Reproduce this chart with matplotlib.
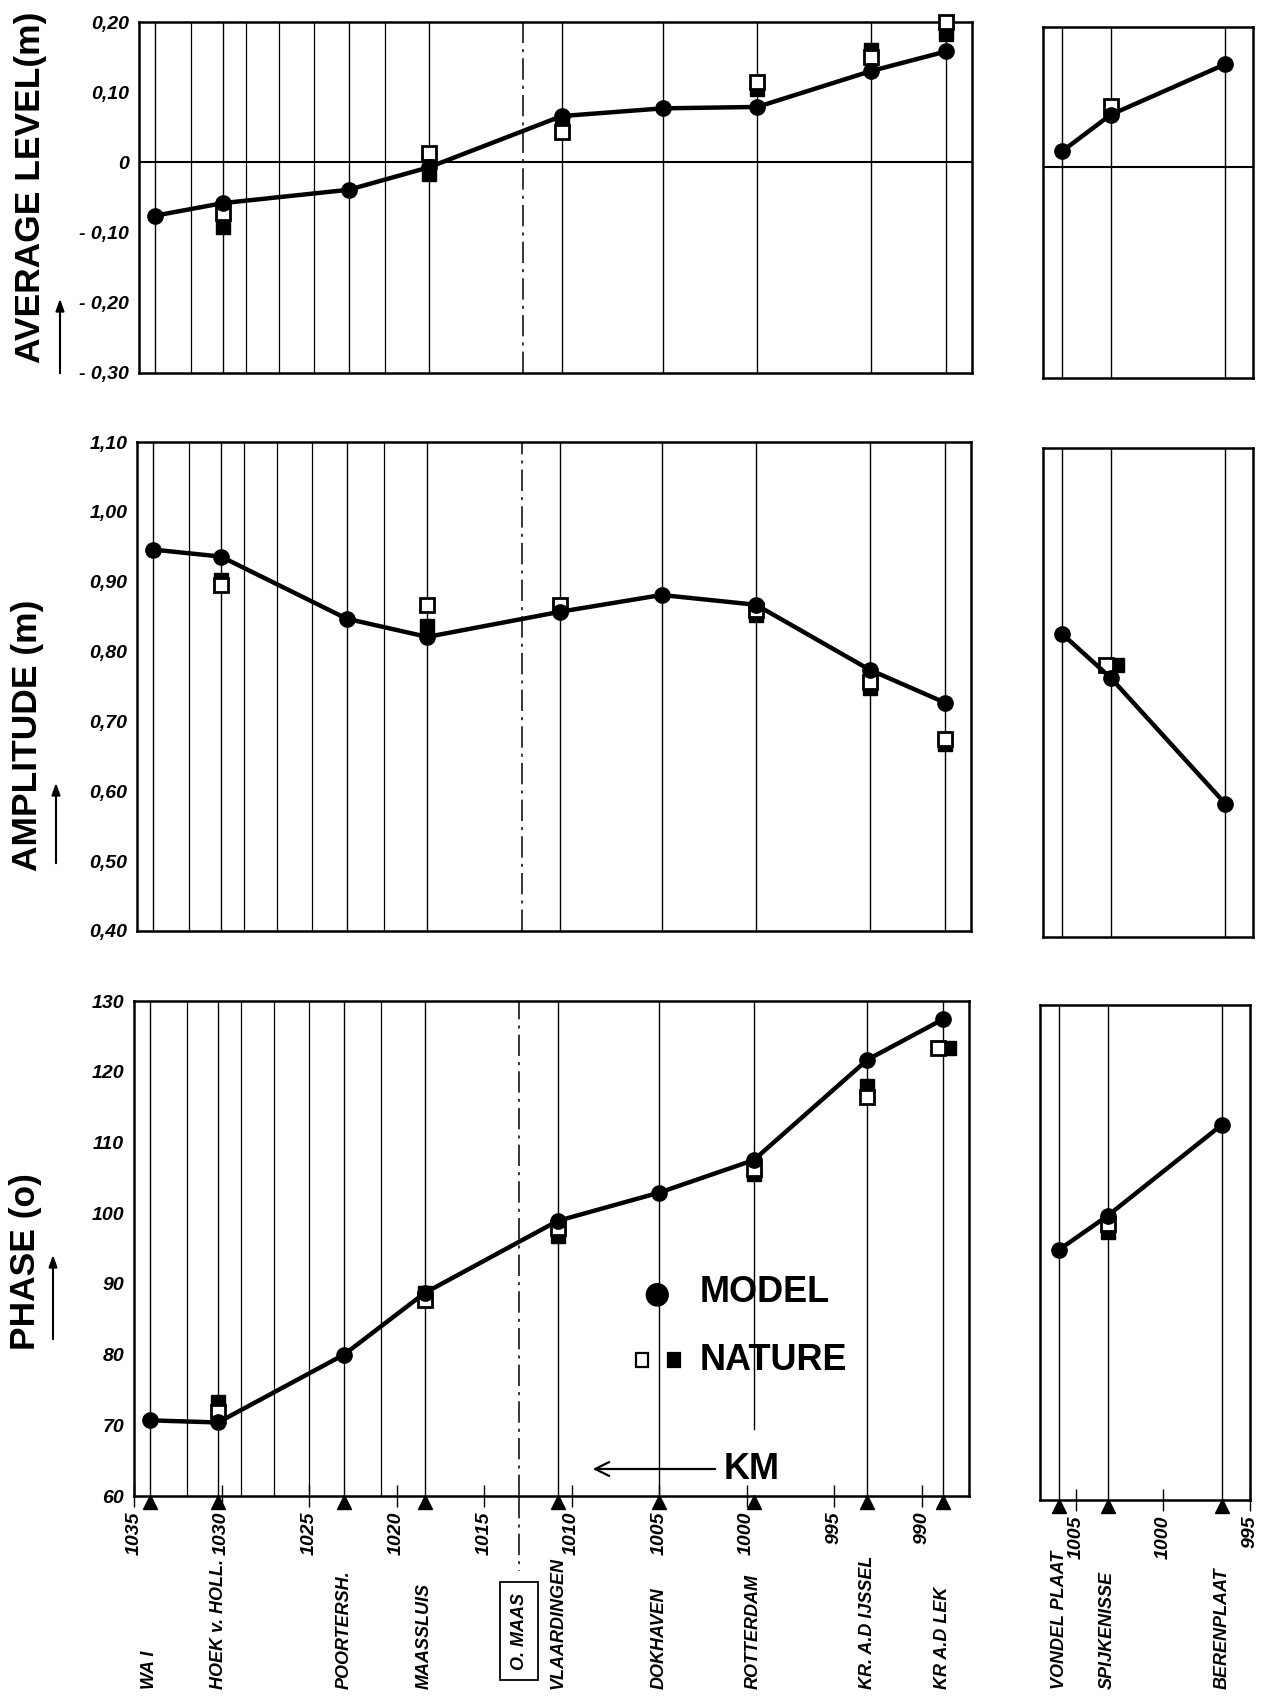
import numpy as np
import matplotlib
matplotlib.use("Agg")
import matplotlib.pyplot as plt
import matplotlib.transforms as mtransforms

plt.rcParams['font.family'] = ['Liberation Sans', 'DejaVu Sans']

nan = np.nan

# stations along the Nieuwe Waterweg / Nieuwe Maas (km)
stations_main = ['WA I', 'HOEK v. HOLL.', 'POORTERSH.', 'MAASSLUIS', 'VLAARDINGEN',
                 'DOKHAVEN', 'ROTTERDAM', 'KR. A.D IJSSEL', 'KR A.D LEK']
km_main = [1034.1, 1030.2, 1023.0, 1018.4, 1010.8, 1005.0, 999.6, 993.1, 988.8]
# stations along the Oude Maas (km)
stations_side = ['VONDEL PLAAT', 'SPIJKENISSE', 'BERENPLAAT']
km_side = [1006.0, 1003.2, 996.6]
omaas_km = 1013.0
grid_km = [1032.0, 1028.9, 1027.0, 1025.0, 1020.9]
xticks_main = [1035, 1030, 1025, 1020, 1015, 1010, 1005, 1000, 995, 990]
xticks_side = [1005, 1000, 995]

# average level (m)
level_model = [-0.076, -0.058, -0.039, -0.007, 0.066, 0.077, 0.079, 0.130, 0.158]
level_open = [nan, -0.072, nan, 0.013, 0.043, nan, 0.115, 0.150, 0.200]
level_filled = [nan, -0.092, nan, -0.017, 0.052, nan, 0.105, 0.160, 0.183]
level_side_model = [0.023, 0.075, 0.147]
level_side_open = [nan, 0.088, nan]
level_side_filled = [nan, 0.080, nan]

# amplitude (m)
amp_model = [0.946, 0.936, 0.847, 0.821, 0.857, 0.881, 0.867, 0.774, 0.727]
amp_open = [nan, 0.896, nan, 0.867, 0.866, nan, 0.860, 0.757, 0.675]
amp_filled = [nan, 0.903, nan, 0.836, 0.862, nan, 0.852, 0.748, 0.668]
amp_side_model = [0.834, 0.771, 0.591]
amp_side_open = [nan, 0.790, nan]
amp_side_filled = [nan, 0.790, nan]

# phase (degrees)
phase_model = [70.7, 70.4, 80.0, 88.7, 98.9, 102.9, 107.5, 121.7, 127.4]
phase_open = [nan, 71.9, nan, 87.7, 97.9, nan, 106.2, 116.4, 123.4]
phase_filled = [nan, 73.3, nan, 88.7, 96.8, nan, 105.5, 118.0, 123.4]
phase_side_model = [95.4, 100.2, 113.1]
phase_side_open = [nan, 99.1, nan]
phase_side_filled = [nan, 97.9, nan]

level_ticks = [0.20, 0.10, 0, -0.10, -0.20, -0.30]
level_labels = ['0,20', '0,10', '0', '- 0,10', '- 0,20', '- 0,30']
amp_ticks = [1.10, 1.00, 0.90, 0.80, 0.70, 0.60, 0.50, 0.40]
amp_labels = ['1,10', '1,00', '0,90', '0,80', '0,70', '0,60', '0,50', '0,40']
phase_ticks = [130, 120, 110, 100, 90, 80, 70, 60]
phase_labels = ['130', '120', '110', '100', '90', '80', '70', '60']

W, H = 1265, 1701
fig = plt.figure(figsize=(W / 100, H / 100), dpi=100)


def rect(l, t, r, b):
    return [l / W, 1 - b / H, (r - l) / W, (b - t) / H]


def fy(y):
    return 1 - y / H


def fx(x):
    return x / W


panels = [
    dict(main=(139, 22, 972, 373), side=(1043, 27, 1253, 378), ylim=(-0.30, 0.20),
         ticks=level_ticks, labels=level_labels,
         data=(level_model, level_open, level_filled),
         side_data=(level_side_model, level_side_open, level_side_filled),
         title='AVERAGE LEVEL(m)', tx=31, ty=187, arrow=(60, 376, 296)),
    dict(main=(137, 442, 971, 931), side=(1043, 448, 1253, 937), ylim=(0.40, 1.10),
         ticks=amp_ticks, labels=amp_labels,
         data=(amp_model, amp_open, amp_filled),
         side_data=(amp_side_model, amp_side_open, amp_side_filled),
         title='AMPLITUDE (m)', tx=27, ty=735, arrow=(56, 866, 780)),
    dict(main=(134, 1001, 969, 1496), side=(1040, 1005, 1250, 1500), ylim=(60, 130),
         ticks=phase_ticks, labels=phase_labels,
         data=(phase_model, phase_open, phase_filled),
         side_data=(phase_side_model, phase_side_open, phase_side_filled),
         title='PHASE (o)', tx=26, ty=1262, arrow=(53, 1342, 1252)),
]

tick_font = dict(fontsize=14, fontstyle='italic', fontweight='bold')
dashdot = (0, (14, 4, 2, 4))


def draw_series(ax, km, model, op, fi):
    op = np.array(op, dtype=float)
    fi = np.array(fi, dtype=float)
    same = np.isclose(op, fi)
    # coinciding nature values are drawn side by side, open left / filled right
    left = mtransforms.offset_copy(ax.transData, fig=fig, x=-5, y=0, units='dots')
    right = mtransforms.offset_copy(ax.transData, fig=fig, x=6, y=0, units='dots')
    km = np.array(km, dtype=float)
    ax.plot(km[~same], fi[~same], 's', ms=9.5, color='black', zorder=3, clip_on=False)
    ax.plot(km[same], fi[same], 's', ms=9.5, color='black', zorder=3, clip_on=False,
            transform=right)
    ax.plot(km[~same], op[~same], 's', ms=9.5, mfc='white', mec='black', mew=2.0,
            zorder=3.5, clip_on=False)
    ax.plot(km[same], op[same], 's', ms=9.5, mfc='white', mec='black', mew=2.0,
            zorder=3.5, clip_on=False, transform=left)
    ax.plot(km, model, '-o', color='black', lw=3.2, ms=11, zorder=4, clip_on=False)


axes_main = []
axes_side = []
for i, p in enumerate(panels):
    last = i == len(panels) - 1
    ax = fig.add_axes(rect(*p['main']))
    axs = fig.add_axes(rect(*p['side']))
    axes_main.append(ax)
    axes_side.append(axs)
    ax.set_xlim(1035, 987.3)
    axs.set_xlim(1007.1, 995.0)
    for a in (ax, axs):
        a.set_ylim(*p['ylim'])
        for s in a.spines.values():
            s.set_linewidth(1.8)
        a.tick_params(axis='y', length=0, pad=7)
        a.set_facecolor('white')

    for name, km in zip(stations_main, km_main):
        lo = 0.135 if (last and name == 'ROTTERDAM') else 0
        ax.axvline(km, ymin=lo, color='black', lw=1.0, zorder=1)
    for km in grid_km:
        ax.axvline(km, color='black', lw=0.9, zorder=1)
    ax.axvline(omaas_km, color='black', lw=1.1, ls=dashdot, zorder=1)
    for km in km_side:
        axs.axvline(km, color='black', lw=1.0, zorder=1)

    if p['ylim'][0] < 0:
        ax.axhline(0, color='black', lw=1.5, zorder=1)
        axs.axhline(0, color='black', lw=1.5, zorder=1)

    ax.set_yticks(p['ticks'])
    ax.set_yticklabels(p['labels'], **tick_font)
    axs.set_yticks([])

    draw_series(ax, km_main, *p['data'])
    draw_series(axs, km_side, *p['side_data'])

    fig.text(fx(p['tx']), fy(p['ty']), p['title'], rotation=90, ha='center',
             va='center', fontsize=25.5, fontweight='bold')
    axx, y0, y1 = p['arrow']
    fig.add_artist(matplotlib.patches.FancyArrowPatch(
        (fx(axx), fy(y0)), (fx(axx), fy(y1)), transform=fig.transFigure,
        arrowstyle='-|>,head_length=7,head_width=2.5', lw=1.5, color='black'))

    if not last:
        ax.set_xticks([])
        axs.set_xticks([])

# bottom axis: km ticks, station triangles and names
axb, axbs = axes_main[-1], axes_side[-1]
for a, ticks, km, names in ((axb, xticks_main, km_main, stations_main),
                            (axbs, xticks_side, km_side, stations_side)):
    a.set_xticks(ticks)
    a.set_xticklabels([str(t) for t in ticks], rotation=90, fontsize=14,
                      fontstyle='italic', fontweight='bold')
    a.tick_params(axis='x', direction='inout', length=16, width=1.0, pad=3)
    tr_ax = mtransforms.blended_transform_factory(a.transData, a.transAxes)
    a.plot(km, [-0.013] * len(km), '^', color='black', ms=10, transform=tr_ax,
           clip_on=False, zorder=5)
    tr_fig = mtransforms.blended_transform_factory(a.transData, fig.transFigure)
    for name, k in zip(names, km):
        a.text(k, fy(1689), name, transform=tr_fig, rotation=90, ha='center',
               va='bottom', fontsize=13, fontstyle='italic', fontweight='bold')

# O. MAAS junction marker
tr_fig = mtransforms.blended_transform_factory(axb.transData, fig.transFigure)
axb.plot([omaas_km, omaas_km], [fy(1497), fy(1571)], color='black', lw=1.1,
         ls=dashdot, transform=tr_fig, clip_on=False)
axb.text(omaas_km, fy(1631), 'O. MAAS', transform=tr_fig, rotation=90, ha='center',
         va='center', fontsize=13, fontstyle='italic', fontweight='bold',
         bbox=dict(boxstyle='square,pad=0.6', fc='white', ec='black', lw=1.3))

# legend
fig.text(fx(657), fy(1294), '\u25CF', fontsize=22, ha='center', va='center',
         family='DejaVu Sans')
fig.text(fx(700), fy(1292), 'MODEL', fontsize=26, fontweight='bold', va='center')
fig.add_artist(matplotlib.patches.Rectangle((fx(636), fy(1367)), 12 / W, 14 / H,
               transform=fig.transFigure, fc='white', ec='black', lw=1.6))
fig.add_artist(matplotlib.patches.Rectangle((fx(668), fy(1367)), 12 / W, 14 / H,
               transform=fig.transFigure, fc='black', ec='black', lw=1.6))
fig.text(fx(700), fy(1361), 'NATURE', fontsize=26, fontweight='bold', va='center')

# KM direction arrow
fig.add_artist(matplotlib.patches.FancyArrowPatch(
    (fx(718), fy(1469)), (fx(590), fy(1469)), transform=fig.transFigure,
    arrowstyle='->,head_length=10,head_width=5', lw=1.6, color='black'))
fig.text(fx(724), fy(1469), 'KM', fontsize=26, fontweight='bold', va='center')

fig.savefig('out.png', dpi=100, facecolor='white')
